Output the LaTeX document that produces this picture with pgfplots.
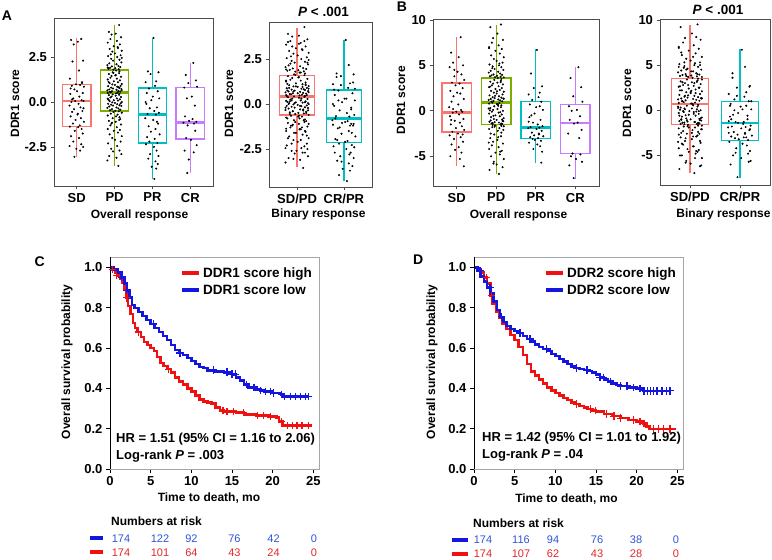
\documentclass[border=0pt]{standalone}
\usepackage{pgfplots}
\pgfplotsset{compat=1.18}
\usepgfplotslibrary{statistics}
\usepackage{pgfplotstable}
\usepackage{fontspec}
\setmainfont{Liberation Sans}

\definecolor{c1}{HTML}{F8766D}
\definecolor{c2}{HTML}{7CAE00}
\definecolor{c3}{HTML}{00BFC4}
\definecolor{c4}{HTML}{C77CFF}
\definecolor{axg}{HTML}{4D4D4D}
\definecolor{kmred}{HTML}{F01010}
\definecolor{kmblue}{HTML}{1515E0}
\definecolor{txtblue}{HTML}{2F55D4}
\definecolor{txtred}{HTML}{E32626}

% ---------------- Panel A data (jitter j, score y) ----------------
\pgfplotstableread{
j y
0.12 3.5
-0.15 3.45
0.03 3.35
-0.08 3.2
0.17 2.3
-0.11 2.25
0.06 1.75
-0.18 1.3
0.14 1.1
-0.02 0.98
0.09 0.95
-0.13 0.9
0.19 0.85
-0.06 0.7
0.01 0.6
0.16 0.5
-0.17 0.45
0.07 0.3
-0.09 0.2
0.13 0.1
-0.04 0.05
0.18 0.05
-0.14 0.0
0.05 -0.1
-0.19 -0.2
0.10 -0.3
-0.07 -0.4
0.15 -0.5
-0.12 -0.55
0.02 -0.7
-0.16 -0.8
0.11 -0.9
-0.03 -1.0
0.19 -1.1
-0.10 -1.2
0.08 -1.3
-0.18 -1.37
0.04 -1.4
0.13 -1.5
-0.05 -1.6
0.16 -1.75
-0.15 -1.9
0.06 -2.0
-0.09 -2.2
0.12 -2.35
-0.19 -2.45
0.17 -2.5
-0.01 -2.6
0.09 -2.7
-0.06 -3.05
0.14 1.05
-0.12 0.15
0.03 -0.65
0.18 -0.35
-0.16 0.75
}\Asd
\pgfplotstableread{
j y
0.12 4.28
-0.15 3.9
0.03 3.8
-0.08 3.75
0.17 3.6
-0.11 3.5
0.06 3.4
-0.18 3.3
0.14 3.2
-0.02 3.1
0.09 3.0
-0.13 2.95
0.19 2.85
-0.06 2.8
0.01 2.7
0.16 2.6
-0.17 2.55
0.07 2.5
-0.09 2.4
0.13 2.35
-0.04 2.3
0.18 2.2
-0.14 2.15
0.05 2.1
-0.19 2.05
0.10 2.0
-0.07 1.98
0.15 1.95
-0.12 1.9
0.02 1.88
-0.16 1.85
0.11 1.82
-0.03 1.8
0.19 2.45
-0.10 2.65
0.08 3.05
-0.18 1.92
0.04 1.75
0.13 1.7
-0.05 1.65
0.12 1.6
-0.15 1.55
0.03 1.5
-0.08 1.45
0.17 1.4
-0.11 1.35
0.06 1.3
-0.18 1.25
0.14 1.2
-0.02 1.15
0.09 1.1
-0.13 1.05
0.19 1.0
-0.06 0.98
0.01 0.95
0.16 0.9
-0.17 0.88
0.07 0.85
-0.09 0.8
0.13 0.78
-0.04 0.75
0.18 0.72
-0.14 0.7
0.05 0.68
-0.19 0.65
0.10 0.62
-0.07 0.6
0.15 0.58
-0.12 0.56
0.02 1.48
-0.16 1.12
0.11 0.82
-0.03 1.62
0.19 0.66
-0.10 0.54
0.08 0.52
-0.18 0.5
0.04 0.48
0.13 0.45
-0.05 0.42
0.12 0.4
-0.15 0.38
0.03 0.35
-0.08 0.3
0.17 0.28
-0.11 0.25
0.06 0.2
-0.18 0.18
0.14 0.15
-0.02 0.1
0.09 0.08
-0.13 0.05
0.19 0.0
-0.06 -0.02
0.01 -0.05
0.16 -0.08
-0.17 -0.1
0.07 -0.12
-0.09 -0.15
0.13 -0.18
-0.04 -0.2
0.18 -0.22
-0.14 -0.25
0.05 -0.3
-0.19 -0.33
0.10 -0.36
-0.07 -0.4
0.15 -0.43
-0.12 -0.46
0.02 -0.49
-0.16 0.12
0.11 -0.52
-0.03 -0.55
0.19 -0.6
-0.10 -0.65
0.08 -0.7
-0.18 -0.75
0.04 -0.8
0.13 -0.85
-0.05 -0.9
0.12 -1.0
-0.15 -1.05
0.03 -1.1
-0.08 -1.2
0.17 -1.25
-0.11 -1.3
0.06 -1.4
-0.18 -1.5
0.14 -1.55
-0.02 -1.6
0.09 -1.7
-0.13 -1.8
0.19 -1.9
-0.06 -2.0
0.01 -2.1
0.16 -2.2
-0.17 -2.3
0.07 -2.45
-0.09 -2.6
0.13 -2.7
-0.04 -2.75
0.18 -2.9
-0.14 -3.0
0.05 -3.1
-0.19 -3.25
0.10 -3.55
-0.07 -1.15
0.15 -0.95
}\Apd
\pgfplotstableread{
j y
0.03 3.56
-0.12 1.7
0.16 1.65
-0.05 1.55
0.10 1.15
-0.18 1.1
0.07 0.9
-0.09 0.75
0.14 0.6
-0.15 0.5
0.01 0.3
0.18 0.2
-0.03 0.1
-0.16 -0.1
0.12 -0.3
-0.07 -0.35
0.05 -0.5
0.17 -0.6
-0.13 -0.67
0.09 -0.7
-0.19 -0.9
0.02 -1.0
0.15 -1.2
-0.10 -1.35
0.08 -1.5
-0.04 -1.65
0.19 -1.8
-0.14 -1.95
0.06 -2.05
-0.08 -2.2
0.13 -2.28
-0.17 -2.35
0.04 -2.5
0.11 -2.7
-0.06 -2.9
0.16 -3.0
-0.11 -3.15
0.08 -3.3
0.14 -3.45
-0.02 -3.6
0.10 -3.7
0.05 -4.28
-0.18 0.0
0.12 -1.1
}\Apr
\pgfplotstableread{
j y
0.08 2.17
-0.12 1.5
0.15 1.2
-0.05 1.05
0.18 0.85
-0.16 0.8
0.04 0.3
-0.09 0.2
0.12 -0.2
-0.14 -0.8
0.06 -0.95
-0.03 -1.05
0.16 -1.1
-0.18 -1.15
0.10 -1.2
-0.07 -1.3
0.13 -1.6
-0.11 -2.0
0.02 -2.1
0.17 -2.4
-0.15 -2.7
0.09 -2.8
-0.04 -3.2
-0.08 -3.95
}\Acr

% ---------------- Panel B data ----------------
\pgfplotstableread{
j y
0.10 8.1
-0.14 6.4
0.05 5.9
-0.09 5.3
0.16 5.0
-0.18 4.8
0.02 4.3
0.12 4.0
-0.06 3.8
0.19 3.4
-0.12 3.1
0.07 3.0
-0.03 2.8
0.15 2.5
-0.16 2.2
0.09 1.9
-0.08 1.6
0.18 1.3
-0.13 1.0
0.04 0.7
-0.19 0.4
0.11 0.1
-0.01 -0.1
0.14 -0.1
-0.10 -0.2
0.06 -0.4
-0.17 -0.6
0.17 -0.9
-0.05 -1.1
0.08 -1.3
-0.15 -1.5
0.13 -1.7
-0.02 -1.9
0.19 -2.1
-0.11 -2.3
0.03 -2.5
-0.18 -2.7
0.10 -2.9
-0.07 -3.1
0.16 -3.4
-0.13 -3.7
0.05 -4.0
-0.04 -4.3
0.12 -4.6
-0.16 -5.0
0.08 -5.3
0.18 -6.1
-0.09 0.2
0.01 2.0
-0.14 -1.0
0.15 -2.6
-0.06 4.5
}\Bsd
\pgfplotstableread{
j y
0.12 9.5
-0.15 9.2
0.03 8.5
-0.08 8.0
0.17 7.8
-0.11 7.5
0.06 7.2
-0.18 7.0
0.14 6.8
-0.02 6.6
0.09 6.3
-0.13 6.1
0.19 5.9
-0.06 5.7
0.01 5.5
0.16 5.3
-0.17 5.1
0.07 5.0
-0.09 4.9
0.13 4.8
-0.04 4.6
0.18 4.5
-0.14 4.4
0.05 4.3
-0.19 4.2
0.10 4.1
-0.07 4.0
0.15 3.95
-0.12 3.9
0.02 3.85
-0.16 3.8
0.11 3.75
-0.03 3.7
0.19 3.68
-0.10 4.7
0.08 5.2
-0.18 6.9
0.04 3.6
0.13 3.5
-0.05 3.4
0.12 3.3
-0.15 3.2
0.03 3.1
-0.08 3.0
0.17 2.9
-0.11 2.8
0.06 2.7
-0.18 2.6
0.14 2.5
-0.02 2.4
0.09 2.3
-0.13 2.2
0.19 2.1
-0.06 2.0
0.01 1.9
0.16 1.8
-0.17 1.7
0.07 1.6
-0.09 1.5
0.13 1.45
-0.04 1.4
0.18 1.35
-0.14 1.3
0.05 1.25
-0.19 1.2
0.10 1.15
-0.07 1.1
0.15 1.05
-0.12 1.0
0.02 2.15
-0.16 2.65
0.11 3.15
-0.03 1.65
0.19 1.32
-0.10 0.9
0.08 0.85
-0.18 0.8
0.04 0.7
0.13 0.6
-0.05 0.5
0.12 0.4
-0.15 0.3
0.03 0.2
-0.08 0.1
0.17 0.0
-0.11 -0.1
0.06 -0.2
-0.18 -0.3
0.14 -0.4
-0.02 -0.5
0.09 -0.6
-0.13 -0.7
0.19 -0.8
-0.06 -0.9
0.01 -1.0
0.16 -1.1
-0.17 -1.2
0.07 -1.3
-0.09 -1.35
0.13 -1.4
-0.04 -1.25
0.18 -1.15
-0.14 -1.05
0.05 0.55
-0.19 0.25
0.10 -0.15
-0.07 -0.55
0.15 -0.95
-0.12 -1.38
0.02 0.75
-0.16 0.05
0.11 -1.5
-0.03 -1.6
0.19 -1.7
-0.10 -1.8
0.08 -1.9
-0.18 -2.0
0.04 -2.2
0.13 -2.4
-0.05 -2.6
0.12 -2.8
-0.15 -3.0
0.03 -3.2
-0.08 -3.4
0.17 -3.6
-0.11 -3.8
0.06 -4.0
-0.18 -4.2
0.14 -4.4
-0.02 -4.6
0.09 -4.8
-0.13 -5.0
0.19 -5.3
-0.06 -5.6
0.01 -5.9
0.16 -6.2
-0.17 -6.5
0.07 -6.95
-0.09 -1.55
0.13 -1.65
-0.04 -1.75
0.18 -2.1
-0.14 -2.5
0.05 -2.9
-0.19 -3.5
0.10 -4.5
-0.07 -5.8
0.15 -1.45
}\Bpd
\pgfplotstableread{
j y
0.03 6.7
-0.12 4.1
0.16 2.7
-0.05 2.5
0.10 2.0
-0.18 1.8
0.07 1.5
-0.09 1.2
0.14 1.0
-0.15 0.7
0.01 0.4
0.18 0.1
-0.03 -0.3
-0.16 -0.7
0.12 -1.0
-0.07 -1.3
0.05 -1.5
0.17 -1.7
-0.13 -1.8
0.09 -1.85
-0.19 -1.9
0.02 -2.0
0.15 -2.2
-0.10 -2.4
0.08 -2.5
-0.04 -2.7
0.19 -2.8
-0.14 -2.9
0.06 -3.0
-0.08 -3.1
0.13 -3.3
-0.17 -3.5
0.04 -3.7
0.11 -3.9
-0.06 -4.2
0.16 -4.5
0.14 -5.7
-0.11 -0.5
0.08 -2.6
-0.02 -3.2
0.10 0.5
-0.18 -1.2
}\Bpr
\pgfplotstableread{
j y
0.08 4.8
-0.12 3.6
0.15 2.6
-0.05 1.6
0.18 1.0
-0.16 0.5
0.04 0.1
-0.09 0.0
0.12 -0.6
-0.14 -1.0
0.06 -1.3
-0.03 -1.4
0.16 -2.1
-0.18 -2.5
0.10 -3.0
-0.07 -4.7
0.13 -4.8
-0.11 -5.0
0.02 -5.3
0.17 -5.6
-0.15 -6.0
-0.04 -7.4
}\Bcr

\pgfplotsset{
  bp/.style={scale only axis, anchor=south west,
    axis line style={axg, line width=0.8pt},
    tick style={axg, line width=0.8pt},
    tick align=outside, major tick length=3.5pt,
    xtick pos=bottom, ytick pos=left,
    tick label style={font=\bfseries\fontsize{13}{13}\selectfont, black},
    clip=false,
    boxplot/draw direction=y,
    boxplot/whisker extend=0, boxplot/box extend=0.75,
    boxplot/every median/.style={line width=2.8pt}},
  jit/.style={only marks, mark=*, mark size=0.8pt, black},
  km/.style={scale only axis, anchor=south west,
    axis line style={gray!70, line width=0.8pt},
    tick style={black, line width=0.8pt},
    tick align=outside, major tick length=4pt,
    xtick pos=bottom, ytick pos=left,
    tick label style={font=\bfseries\fontsize{13}{13}\selectfont},
    xmin=0, xmax=25.7, ymin=0, ymax=1.052,
    xtick={0,5,10,15,20,25}, xticklabels={0,5,10,15,20,25},
    ytick={0,0.2,0.4,0.6,0.8,1}, yticklabels={0.0,0.2,0.4,0.6,0.8,1.0},
    legend cell align=left,
    legend image code/.code={\draw[#1, line width=3.8pt] (0pt,0pt) -- (17pt,0pt);},
    legend style={draw=none, fill=none, inner sep=0pt, row sep=2pt,
      font=\bfseries\fontsize{13.5}{13.5}\selectfont}},
  kmr/.style={const plot, kmred, line width=2.5pt},
  kmb/.style={const plot, kmblue, line width=2.5pt},
  cr/.style={only marks, mark=+, mark size=3.8pt, kmred, line width=1.3pt, forget plot},
  cb/.style={only marks, mark=+, mark size=3.8pt, kmblue, line width=1.3pt, forget plot},
}

\begin{document}
\begin{tikzpicture}
\path[use as bounding box] (0pt,0pt) rectangle (772pt,560pt);

% ===== Panel A, overall response =====
\begin{axis}[bp, at={(54pt,374pt)}, width=159pt, height=168pt,
  xmin=0.4, xmax=4.6, ymin=-4.67, ymax=4.67,
  xtick={1,2,3,4}, xticklabels={SD,PD,PR,CR},
  ytick={-2.5,0,2.5}, yticklabels={-2.5,0.0,2.5}]
\addplot[draw=c1, line width=1.4pt, fill=white, boxplot prepared={lower whisker=-3.05, lower quartile=-1.37, median=0.05, upper quartile=0.98, upper whisker=3.55, draw position=1}] coordinates {};
\addplot[draw=c2, line width=1.4pt, fill=white, boxplot prepared={lower whisker=-3.55, lower quartile=-0.5, median=0.53, upper quartile=1.77, upper whisker=4.28, draw position=2}] coordinates {};
\addplot[draw=c3, line width=1.4pt, fill=white, boxplot prepared={lower whisker=-4.28, lower quartile=-2.28, median=-0.68, upper quartile=0.77, upper whisker=3.56, draw position=3}] coordinates {};
\addplot[draw=c4, line width=1.4pt, fill=white, boxplot prepared={lower whisker=-3.95, lower quartile=-2.06, median=-1.15, upper quartile=0.8, upper whisker=2.17, draw position=4}] coordinates {};
\addplot[jit] table[x expr=\thisrow{j}+1, y=y] {\Asd};
\addplot[jit] table[x expr=\thisrow{j}+2, y=y] {\Apd};
\addplot[jit] table[x expr=\thisrow{j}+3, y=y] {\Apr};
\addplot[jit] table[x expr=\thisrow{j}+4, y=y] {\Acr};
\end{axis}

% ===== Panel A, binary response =====
\begin{axis}[bp, at={(269pt,373pt)}, width=103pt, height=165pt,
  xmin=0.4, xmax=2.6, ymin=-4.61, ymax=4.56,
  xtick={1,2}, xticklabels={SD/PD,CR/PR},
  ytick={-2.5,0,2.5}, yticklabels={-2.5,0.0,2.5}]
\addplot[draw=c1, line width=1.4pt, fill=white, boxplot prepared={lower whisker=-3.5, lower quartile=-0.6, median=0.43, upper quartile=1.6, upper whisker=4.25, draw position=1}] coordinates {};
\addplot[draw=c3, line width=1.4pt, fill=white, boxplot prepared={lower whisker=-4.25, lower quartile=-2.15, median=-0.8, upper quartile=0.78, upper whisker=3.56, draw position=2}] coordinates {};
\addplot[jit] table[x expr=1.3*\thisrow{j}+1, y=y] {\Asd};
\addplot[jit] table[x expr=1.3*\thisrow{j}+1, y=y] {\Apd};
\addplot[jit] table[x expr=1.3*\thisrow{j}+2, y=y] {\Apr};
\addplot[jit] table[x expr=1.3*\thisrow{j}+2, y=y] {\Acr};
\end{axis}

% ===== Panel B, overall response =====
\begin{axis}[bp, at={(433pt,374pt)}, width=166pt, height=167pt,
  xmin=0.4, xmax=4.6, ymin=-8.27, ymax=10.1,
  xtick={1,2,3,4}, xticklabels={SD,PD,PR,CR},
  ytick={-5,0,5,10}, yticklabels={-5,0,5,10}]
\addplot[draw=c1, line width=1.4pt, fill=white, boxplot prepared={lower whisker=-6.1, lower quartile=-2.35, median=-0.15, upper quartile=3.05, upper whisker=8.1, draw position=1}] coordinates {};
\addplot[draw=c2, line width=1.4pt, fill=white, boxplot prepared={lower whisker=-6.95, lower quartile=-1.5, median=0.93, upper quartile=3.62, upper whisker=9.4, draw position=2}] coordinates {};
\addplot[draw=c3, line width=1.4pt, fill=white, boxplot prepared={lower whisker=-5.75, lower quartile=-3.05, median=-1.82, upper quartile=1.05, upper whisker=6.75, draw position=3}] coordinates {};
\addplot[draw=c4, line width=1.4pt, fill=white, boxplot prepared={lower whisker=-7.45, lower quartile=-4.68, median=-1.35, upper quartile=0.68, upper whisker=4.85, draw position=4}] coordinates {};
\addplot[jit] table[x expr=\thisrow{j}+1, y=y] {\Bsd};
\addplot[jit] table[x expr=\thisrow{j}+2, y=y] {\Bpd};
\addplot[jit] table[x expr=\thisrow{j}+3, y=y] {\Bpr};
\addplot[jit] table[x expr=\thisrow{j}+4, y=y] {\Bcr};
\end{axis}

% ===== Panel B, binary response =====
\begin{axis}[bp, at={(660pt,375pt)}, width=110pt, height=166pt,
  xmin=0.4, xmax=2.6, ymin=-8.27, ymax=10.1,
  xtick={1,2}, xticklabels={SD/PD,CR/PR},
  ytick={-5,0,5,10}, yticklabels={-5,0,5,10}]
\addplot[draw=c1, line width=1.4pt, fill=white, boxplot prepared={lower whisker=-6.95, lower quartile=-1.55, median=0.7, upper quartile=3.5, upper whisker=9.4, draw position=1}] coordinates {};
\addplot[draw=c3, line width=1.4pt, fill=white, boxplot prepared={lower whisker=-7.45, lower quartile=-3.35, median=-1.4, upper quartile=0.95, upper whisker=6.75, draw position=2}] coordinates {};
\addplot[jit] table[x expr=1.25*\thisrow{j}+1, y=y] {\Bsd};
\addplot[jit] table[x expr=1.25*\thisrow{j}+1, y=y] {\Bpd};
\addplot[jit] table[x expr=1.25*\thisrow{j}+2, y=y] {\Bpr};
\addplot[jit] table[x expr=1.25*\thisrow{j}+2, y=y] {\Bcr};
\end{axis}

% ===== Panel C =====
\begin{axis}[km, at={(110pt,91pt)}, width=209pt, height=212pt,
  legend style={at={(0.335,0.962)}, anchor=north west}]
\addplot[kmr] coordinates {(0,1.0) (0.3,0.99) (0.6,0.975) (0.9,0.96) (1.2,0.945) (1.5,0.925) (1.8,0.89) (2.0,0.85) (2.2,0.81) (2.5,0.77) (2.8,0.725) (3.1,0.7) (3.4,0.68) (3.8,0.655) (4.2,0.63) (4.6,0.615) (5.0,0.6) (5.4,0.585) (5.8,0.555) (6.2,0.525) (6.6,0.51) (7.0,0.495) (7.5,0.48) (8.0,0.455) (8.5,0.435) (9.0,0.42) (9.5,0.4) (10.0,0.385) (10.5,0.365) (11.0,0.345) (11.5,0.335) (12.0,0.33) (12.5,0.325) (13.0,0.305) (13.5,0.29) (14.0,0.285) (15.5,0.28) (16.5,0.27) (18.0,0.265) (19.5,0.26) (20.5,0.255) (20.8,0.235) (21.2,0.215) (24.9,0.215)};
\addlegendentry{DDR1 score high}
\addplot[kmb] coordinates {(0,1.0) (0.5,0.99) (1.0,0.975) (1.4,0.95) (1.8,0.92) (2.1,0.885) (2.4,0.85) (2.7,0.815) (3.0,0.8) (3.5,0.78) (4.0,0.76) (4.5,0.74) (5.0,0.72) (5.5,0.7) (6.0,0.68) (6.5,0.66) (7.0,0.64) (7.5,0.615) (8.0,0.59) (8.5,0.575) (9.0,0.565) (9.5,0.55) (10.0,0.535) (10.5,0.52) (11.0,0.505) (11.5,0.5) (12.0,0.49) (13.0,0.485) (14.0,0.48) (15.0,0.47) (15.5,0.455) (16.0,0.44) (16.5,0.42) (17.0,0.405) (18.0,0.395) (18.5,0.39) (19.0,0.385) (20.0,0.378) (21.0,0.37) (21.3,0.36) (24.4,0.36)};
\addlegendentry{DDR1 score low}
\addplot[cr] coordinates {(0.3,0.99) (0.8,0.96) (2.05,0.85) (3.5,0.68) (7.2,0.495) (13.9,0.29) (14.4,0.285) (15.2,0.285) (16.4,0.28) (18.1,0.265) (18.9,0.265) (19.7,0.26) (21.1,0.235) (21.8,0.215) (22.4,0.215) (23.0,0.215) (23.6,0.215) (24.4,0.215)};
\addplot[cb] coordinates {(1.44,0.95) (2.05,0.885) (5.34,0.72) (8.6,0.575) (12.7,0.49) (14.4,0.48) (15.0,0.47) (15.4,0.47) (16.8,0.42) (17.7,0.405) (18.5,0.39) (19.1,0.385) (19.7,0.385) (20.1,0.378) (21.1,0.37) (21.5,0.36) (22.2,0.36) (22.8,0.36) (23.4,0.36) (24.0,0.36) (24.4,0.36)};
\draw[black, line width=0.8pt] (rel axis cs:0,1) -- (rel axis cs:0,0) -- (rel axis cs:1,0);
\end{axis}

% ===== Panel D =====
\begin{axis}[km, at={(474pt,91pt)}, width=209pt, height=212pt,
  legend style={at={(0.335,0.962)}, anchor=north west}]
\addplot[kmr] coordinates {(0,1.0) (0.4,0.99) (0.8,0.975) (1.2,0.95) (1.6,0.92) (2.0,0.86) (2.3,0.82) (2.7,0.78) (3.1,0.75) (3.5,0.72) (4.0,0.695) (4.5,0.665) (5.0,0.64) (5.5,0.605) (6.0,0.565) (6.5,0.52) (7.0,0.485) (7.5,0.465) (8.0,0.445) (8.5,0.425) (9.0,0.405) (9.5,0.39) (10.0,0.378) (10.5,0.365) (11.0,0.352) (11.5,0.342) (12.0,0.33) (12.5,0.322) (13.0,0.313) (13.5,0.305) (14.0,0.297) (14.5,0.29) (15.0,0.285) (16.0,0.272) (17.0,0.262) (18.0,0.252) (19.0,0.244) (20.0,0.236) (20.8,0.225) (21.2,0.21) (21.6,0.198) (24.8,0.198)};
\addlegendentry{DDR2 score high}
\addplot[kmb] coordinates {(0,1.0) (0.4,0.985) (0.8,0.955) (1.2,0.93) (1.6,0.9) (2.0,0.87) (2.4,0.83) (2.8,0.79) (3.2,0.755) (3.6,0.73) (4.0,0.71) (4.5,0.695) (5.0,0.685) (5.5,0.675) (6.0,0.66) (6.5,0.645) (7.0,0.632) (7.5,0.618) (8.0,0.605) (8.5,0.595) (9.0,0.585) (9.5,0.57) (10.0,0.56) (10.5,0.545) (11.0,0.533) (11.5,0.52) (12.0,0.508) (12.5,0.5) (13.0,0.497) (13.5,0.492) (14.0,0.487) (14.5,0.478) (15.0,0.468) (15.5,0.455) (16.0,0.445) (16.5,0.435) (17.0,0.425) (17.5,0.418) (18.0,0.412) (19.0,0.405) (20.0,0.4) (20.8,0.388) (24.1,0.388)};
\addlegendentry{DDR2 score low}
\addplot[cr] coordinates {(1.56,0.95) (2.17,0.86) (12.6,0.322) (14.3,0.297) (14.9,0.29) (16.3,0.272) (17.2,0.262) (18.0,0.252) (19.6,0.244) (20.4,0.236) (20.9,0.225) (22.1,0.198) (22.7,0.198) (23.3,0.198) (24.1,0.198)};
\addplot[cb] coordinates {(0.74,0.985) (1.97,0.9) (3.4,0.755) (5.66,0.675) (6.9,0.645) (8.95,0.595) (12.6,0.5) (13.9,0.492) (15.5,0.455) (15.9,0.455) (16.8,0.435) (18.0,0.412) (18.8,0.412) (19.6,0.405) (20.4,0.4) (20.9,0.388) (21.3,0.388) (21.7,0.388) (22.1,0.388) (22.5,0.388) (23.1,0.388) (23.7,0.388) (24.1,0.388)};
\draw[black, line width=0.8pt] (rel axis cs:0,1) -- (rel axis cs:0,0) -- (rel axis cs:1,0);
\end{axis}

% ===== Titles and labels =====
\tikzset{lab/.style={font=\bfseries\fontsize{12}{12}\selectfont, inner sep=0pt},
         let/.style={font=\bfseries\fontsize{14}{14}\selectfont, inner sep=0pt, anchor=base west}}
\node[let] at (1.7pt,539.3pt) {A};
\node[let] at (396.7pt,548.3pt) {B};
\node[let] at (34.3pt,293.3pt) {C};
\node[let] at (413pt,295pt) {D};

\node[font=\bfseries\fontsize{13.5}{13.5}\selectfont, anchor=base, inner sep=0pt] at (323.5pt,543.3pt) {\textit{P} < .001};
\node[font=\bfseries\fontsize{13.5}{13.5}\selectfont, anchor=base, inner sep=0pt] at (718pt,545pt) {\textit{P} < .001};

\node[lab, anchor=base] at (139.5pt,341pt) {Overall response};
\node[lab, anchor=base] at (318.5pt,342.7pt) {Binary response};
\node[lab, anchor=base] at (518.5pt,341pt) {Overall response};
\node[lab, anchor=base] at (723.5pt,342pt) {Binary response};
\node[lab, rotate=90] at (15pt,456.5pt) {DDR1 score};
\node[lab, rotate=90] at (229pt,456.5pt) {DDR1 score};
\node[lab, rotate=90] at (401pt,460pt) {DDR1 score};
\node[lab, rotate=90] at (627pt,457pt) {DDR1 score};

\node[lab, rotate=90] at (67pt,198pt) {Overall survival probability};
\node[lab, rotate=90] at (432pt,198pt) {Overall survival probability};
\node[lab, anchor=base] at (209pt,58.3pt) {Time to death, mo};
\node[lab, anchor=base] at (566.5pt,57.7pt) {Time to death, mo};

\tikzset{hr/.style={font=\bfseries\fontsize{13}{13}\selectfont, inner sep=0pt, anchor=base west}}
\node[hr] at (116pt,117pt) {HR = 1.51 (95\% CI = 1.16 to 2.06)};
\node[hr] at (116pt,100pt) {Log-rank \textit{P} = .003};
\node[hr] at (482pt,118.3pt) {HR = 1.42 (95\% CI = 1.01 to 1.92)};
\node[hr] at (482pt,101.7pt) {Log-rank \textit{P} = .04};

% ===== Numbers at risk =====
\node[lab, anchor=base west] at (111pt,34.5pt) {Numbers at risk};
\node[lab, anchor=base west] at (473pt,32.5pt) {Numbers at risk};
\draw[kmblue, line width=4pt] (90pt,21.7pt) -- (103pt,21.7pt);
\draw[kmred, line width=4pt] (90pt,8.3pt) -- (103pt,8.3pt);
\draw[kmblue, line width=4pt] (452pt,20.3pt) -- (468pt,20.3pt);
\draw[kmred, line width=4pt] (452pt,6.3pt) -- (468pt,6.3pt);
\tikzset{nb/.style={font=\fontsize{11}{11}\selectfont, inner sep=0pt, anchor=base, txtblue},
         nr/.style={font=\fontsize{11}{11}\selectfont, inner sep=0pt, anchor=base, txtred}}
\foreach \x/\v in {121/174,160/122,191.5/92,234.5/76,273.5/42,314/0} {\node[nb] at (\x pt,17.7pt) {\v};}
\foreach \x/\v in {121/174,160/101,191.5/64,234.5/43,273.5/24,314/0} {\node[nr] at (\x pt,3.3pt) {\v};}
\foreach \x/\v in {483/174,521/116,553/94,597/76,636/38,676/0} {\node[nb] at (\x pt,16.3pt) {\v};}
\foreach \x/\v in {483/174,521/107,553/62,597/43,636/28,676/0} {\node[nr] at (\x pt,2.3pt) {\v};}
\end{tikzpicture}
\end{document}
